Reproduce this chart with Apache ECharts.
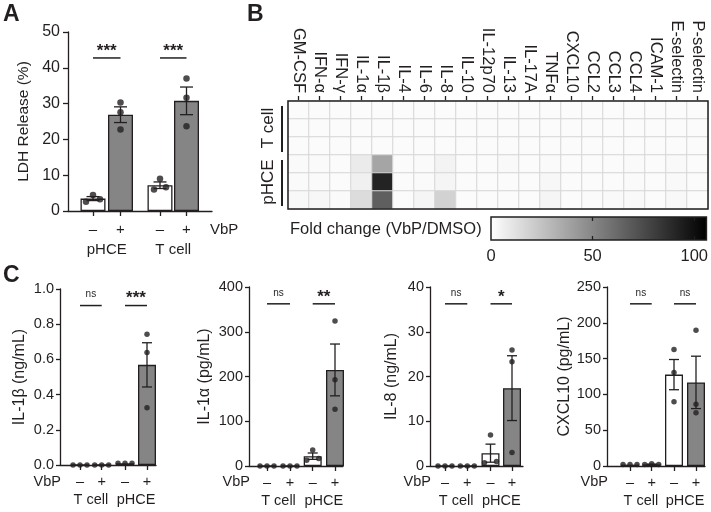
<!DOCTYPE html>
<html><head><meta charset="utf-8">
<script src="https://cdn.jsdelivr.net/npm/echarts@6/dist/echarts.min.js"></script>
<style>html,body{margin:0;padding:0;background:#fff}#c{width:711px;height:512px}</style>
</head><body><div id="c"></div><script>
// ---------------- DATA ----------------
const vbpSigns = ['–', '+'];
// Panel A: LDH release (%), order: pHCE −, pHCE +, T cell −, T cell +
const ldhGroups = ['pHCE', 'T cell'];
const ldhReplicates = [[2.6, 4.5, 3.3], [30.3, 27.6, 22.8], [6.0, 9.0, 6.6], [37.0, 31.6, 23.7]];
const ldhSignif = ['***', '***'];
const ldhTitle = 'LDH Release (%)';

// Panel B: heatmap fold change (VbP/DMSO)
const cytokines = ['GM-CSF','IFN-α','IFN-γ','IL-1α','IL-1β','IL-4','IL-6','IL-8','IL-10','IL-12p70','IL-13','IL-17A','TNFα','CXCL10','CCL2','CCL3','CCL4','ICAM-1','E-selectin','P-selectin'];
const heatRowGroups = ['T cell', 'pHCE'];
const foldChange = [
  [1.7,1.7,1.7,1.7,1.7,1.7,1.7,1.7,1.7,1.7,1.7,1.7,1.7,1.7,1.7,1.7,1.7,1.7,1.7,1.7],
  [1.7,1.7,1.7,1.7,1.7,1.7,1.7,1.7,1.7,1.7,1.7,1.7,1.7,1.7,1.7,1.7,1.7,1.7,1.7,1.7],
  [1.7,1.7,1.7,1.7,1.7,1.7,1.7,1.7,1.7,1.7,1.7,1.7,1.7,1.7,1.7,1.7,1.7,1.7,1.7,1.7],
  [2.0,2.0,1.7,8.3,37.4,1.7,2.0,5.0,1.7,1.7,2.5,1.7,2.0,1.7,1.7,1.7,2.0,1.7,2.5,1.7],
  [2.0,2.0,1.7,6.2,91.5,1.7,2.0,4.2,1.7,1.7,1.7,1.7,3.5,1.7,1.7,1.7,2.0,1.7,2.5,1.7],
  [2.9,3.3,2.0,14.5,66.5,1.7,4.2,18.7,1.7,1.7,1.7,1.7,4.0,1.7,2.0,2.5,2.5,1.7,3.0,1.7]
];
const colorbarTicks = [0, 50, 100];
const colorbarTitle = 'Fold change (VbP/DMSO)';

// Panel C: order T cell −, T cell +, pHCE −, pHCE +
const cGroups = ['T cell', 'pHCE'];
const il1bReplicates   = [[0,0,0],[0,0,0],[0.01,0.01,0.01],[0.743,0.639,0.325]];
const il1aReplicates   = [[0,0,0],[0,0,0],[13,36,17],[324,193,127]];
const il8Replicates    = [[0,0,0],[0,0,0],[0.7,6.9,1.0],[25.9,23.3,3.0]];
const cxcl10Replicates = [[2,2,2],[2,3,2],[162.6,130.6,89.7],[189.6,86.4,74.3]];
const cTitles = ['IL-1β (ng/mL)', 'IL-1α (pg/mL)', 'IL-8 (ng/mL)', 'CXCL10 (pg/mL)'];
const cSignif = [['ns','***'], ['ns','**'], ['ns','*'], ['ns','ns']];
const cMax = [1.0, 400, 40, 250];
const cInterval = [0.2, 100, 10, 50];
const cDecimals = [1, 0, 0, 0];

// ---------------- STYLE / LAYOUT ----------------
const FONT = 'Liberation Sans, Arial, Helvetica, sans-serif';
const INK = '#231f20';
const GRAY = '#858585';
const LW = 1.3;
const CB_MAX = 106;

const grids = [], xAxes = [], yAxes = [], series = [], graphics = [];
const txt = (size, extra) => Object.assign({color: INK, fontSize: size, fontFamily: FONT}, extra || {});
const mean = a => a.reduce((s, v) => s + v, 0) / a.length;
const sem = a => { const m = mean(a); return Math.sqrt(a.reduce((s, v) => s + (v - m) * (v - m), 0) / (a.length - 1)) / Math.sqrt(a.length); };

function clusterOffsets(vals, pxPerVal) {
  const idx = vals.map((v, i) => i).sort((a, b) => vals[a] - vals[b]);
  const clusters = []; let cur = [idx[0]];
  for (let k = 1; k < idx.length; k++) {
    if ((vals[idx[k]] - vals[idx[k - 1]]) * pxPerVal < 6) cur.push(idx[k]);
    else { clusters.push(cur); cur = [idx[k]]; }
  }
  clusters.push(cur);
  const off = vals.map(() => 0);
  clusters.forEach(c => {
    c.sort((a, b) => a - b);
    const s = c.length === 2 ? [-6, 6] : c.length === 3 ? [-7, 0, 7] : [0];
    c.forEach((i, j) => off[i] = s[j] || 0);
  });
  return off;
}

function addBarPanel(L, d) {
  const gi = grids.length;
  grids.push({left: L.left, top: L.top, width: L.width, height: L.height});
  const xi = xAxes.length, yi = yAxes.length;
  const signOf = {}; L.barPx.forEach((x, i) => signOf[x] = vbpSigns[i % 2]);
  const grpX = [(L.barPx[0] + L.barPx[1]) / 2, (L.barPx[2] + L.barPx[3]) / 2];
  const grpOf = {}; grpX.forEach((x, i) => grpOf[x] = d.groups[i]);
  xAxes.push({type: 'value', gridIndex: gi, min: 0, max: L.width, splitLine: {show: false},
    axisLine: {show: true, onZero: false, lineStyle: {color: INK, width: LW}},
    axisTick: {show: true, customValues: L.barPx, length: 5, lineStyle: {color: INK, width: LW}},
    axisLabel: Object.assign({show: true, customValues: L.barPx, formatter: v => signOf[v] || '', margin: L.labMargin}, txt(L.labFont))});
  xAxes.push({type: 'value', gridIndex: gi, min: 0, max: L.width, position: 'bottom', offset: L.grpOffset,
    splitLine: {show: false}, axisLine: {show: false}, axisTick: {show: false},
    axisLabel: Object.assign({show: true, customValues: grpX, formatter: v => grpOf[v] || '', margin: L.labMargin}, txt(L.labFont))});
  yAxes.push({type: 'value', gridIndex: gi, min: 0, max: d.max, interval: d.interval,
    name: d.title, nameLocation: 'middle', nameGap: L.nameGap, nameTextStyle: txt(L.titleFont),
    axisLine: {show: true, lineStyle: {color: INK, width: LW}},
    axisTick: {show: true, length: L.tickLen, lineStyle: {color: INK, width: LW}},
    splitLine: {show: false},
    axisLabel: Object.assign({formatter: v => v.toFixed(d.decimals), margin: L.tickMargin}, txt(L.tickFont))});
  const pxPerVal = L.height / d.max;
  const means = d.reps.map(mean), sems = d.reps.map(sem);
  series.push({type: 'bar', xAxisIndex: xi, yAxisIndex: yi, barWidth: L.barW, z: 2, silent: true,
    itemStyle: {borderColor: INK, borderWidth: LW},
    data: means.map((m, i) => ({value: [L.barPx[i], m], itemStyle: {color: i % 2 ? GRAY : '#ffffff'}}))});
  const capW = L.capW;
  series.push({type: 'custom', xAxisIndex: xi, yAxisIndex: yi, z: 3, silent: true,
    data: means.map((m, i) => [L.barPx[i], m - sems[i], m + sems[i]]).filter(r => r[2] - r[1] > 1e-9),
    renderItem: (params, api) => {
      const x = api.value(0);
      const lo = api.coord([x, api.value(1)]), hi = api.coord([x, api.value(2)]);
      const st = {stroke: INK, lineWidth: LW};
      return {type: 'group', children: [
        {type: 'line', shape: {x1: lo[0], y1: lo[1], x2: hi[0], y2: hi[1]}, style: st},
        {type: 'line', shape: {x1: hi[0] - capW / 2, y1: hi[1], x2: hi[0] + capW / 2, y2: hi[1]}, style: st},
        {type: 'line', shape: {x1: lo[0] - capW / 2, y1: lo[1], x2: lo[0] + capW / 2, y2: lo[1]}, style: st}
      ]};
    }});
  const pts = [];
  d.reps.forEach((r, i) => { const off = clusterOffsets(r, pxPerVal); r.forEach((v, j) => pts.push([L.barPx[i] + off[j], v])); });
  series.push({type: 'scatter', xAxisIndex: xi, yAxisIndex: yi, z: 4, silent: true, symbol: 'circle',
    symbolSize: L.dot, itemStyle: {color: INK}, data: pts});
  const lvl = L.sigLevel * d.max;
  series.push({type: 'custom', xAxisIndex: xi, yAxisIndex: yi, z: 4, silent: true,
    data: d.sig.map((s, i) => [L.barPx[2 * i], L.barPx[2 * i + 1], lvl]),
    renderItem: (params, api) => {
      const a = api.coord([api.value(0), api.value(2)]), b = api.coord([api.value(1), api.value(2)]);
      const s = d.sig[params.dataIndex];
      const ns = s === 'ns';
      return {type: 'group', children: [
        {type: 'line', shape: {x1: a[0], y1: a[1], x2: b[0], y2: b[1]}, style: {stroke: INK, lineWidth: 1.5}},
        {type: 'text', x: (a[0] + b[0]) / 2, y: a[1] - (ns ? 11 : 7),
         style: {text: s, align: 'center', verticalAlign: 'middle', fill: INK, fontFamily: FONT,
                 fontSize: ns ? 10 : 17, fontWeight: ns ? 'normal' : 'bold'}}
      ]};
    }});
  graphics.push({type: 'text', x: L.vbpX, y: L.vbpY,
    style: {text: 'VbP', align: L.vbpAlign, verticalAlign: 'middle', fill: INK, fontFamily: FONT, fontSize: L.labFont}});
}

// Panel A
addBarPanel(
  {left: 68, top: 32, width: 144, height: 179, barPx: [25, 52.5, 92, 118.5], barW: 25, capW: 13, dot: 6.5,
   tickFont: 16, labFont: 15, labMargin: 11, grpOffset: 20, nameGap: 36, titleFont: 15.5, tickLen: 5, tickMargin: 8,
   sigLevel: 0.855, vbpX: 210, vbpY: 230, vbpAlign: 'left'},
  {reps: ldhReplicates, groups: ldhGroups, title: ldhTitle, max: 50, interval: 10, decimals: 0, sig: ldhSignif});

// Panel C
const cLayouts = [
  {left: 60, top: 289, width: 96, height: 176, barPx: [20, 41.7, 65, 87], nameGap: 32},
  {left: 249, top: 287, width: 94, height: 179, barPx: [18, 41, 63.7, 86], nameGap: 36},
  {left: 430, top: 287, width: 93, height: 179, barPx: [15, 37.3, 60.5, 82], nameGap: 30},
  {left: 607, top: 287, width: 98, height: 179, barPx: [23, 44.7, 67, 89], nameGap: 32}
];
const cReps = [il1bReplicates, il1aReplicates, il8Replicates, cxcl10Replicates];
cLayouts.forEach((L, k) => {
  addBarPanel(Object.assign({barW: 18, capW: 10, dot: 5.5, tickFont: 14.5, labFont: 14.5, labMargin: 9, grpOffset: 18,
      titleFont: 16, tickLen: 4, tickMargin: 6, sigLevel: 0.906, vbpX: L.left + 1, vbpY: 482, vbpAlign: 'right'}, L),
    {reps: cReps[k], groups: cGroups, title: cTitles[k], max: cMax[k], interval: cInterval[k], decimals: cDecimals[k], sig: cSignif[k]});
});

// Panel B heatmap
const hgi = grids.length;
grids.push({left: 288, top: 101, width: 420, height: 108});
const hxi = xAxes.length, hyi = yAxes.length;
xAxes.push({type: 'category', gridIndex: hgi, data: cytokines, position: 'top',
  axisLine: {show: false}, splitLine: {show: false},
  axisTick: {show: true, alignWithLabel: true, length: 5, lineStyle: {color: INK, width: LW}},
  axisLabel: Object.assign({rotate: 90, margin: 8, interval: 0}, txt(16.5))});
yAxes.push({type: 'category', gridIndex: hgi, data: foldChange.map((r, i) => String(i)), inverse: true, show: false});
const heatData = [];
foldChange.forEach((row, r) => row.forEach((v, c) => heatData.push([c, r, v])));
const heatSeriesIndex = series.length;
series.push({type: 'heatmap', xAxisIndex: hxi, yAxisIndex: hyi, data: heatData, silent: true, z: 2,
  itemStyle: {borderColor: '#d6d6d6', borderWidth: 1}, emphasis: {disabled: true}});
series.push({type: 'custom', xAxisIndex: hxi, yAxisIndex: hyi, z: 6, silent: true,
  data: heatRowGroups.map((g, i) => [0, i * 3, i * 3 + 2]),
  renderItem: (params, api) => {
    const sz = api.size([1, 1]);
    const c0 = api.coord([0, api.value(1)]), c1 = api.coord([0, api.value(2)]);
    const left = c0[0] - sz[0] / 2, top = c0[1] - sz[1] / 2, bottom = c1[1] + sz[1] / 2;
    const cs = params.coordSys;
    const children = [
      {type: 'line', shape: {x1: left - 6, y1: top + 5, x2: left - 6, y2: bottom - 3}, style: {stroke: INK, lineWidth: 2}},
      {type: 'text', x: left - 20, y: (top + bottom) / 2, rotation: Math.PI / 2,
       style: {text: heatRowGroups[params.dataIndex], align: 'center', verticalAlign: 'middle', fill: INK, fontFamily: FONT, fontSize: 17}}
    ];
    if (params.dataIndex === 0) children.push({type: 'rect', shape: {x: cs.x, y: cs.y, width: cs.width, height: cs.height},
      style: {fill: 'none', stroke: INK, lineWidth: 1.5}});
    return {type: 'group', children};
  }});

// Colorbar
const cbg = grids.length;
grids.push({left: 491, top: 217, width: 219, height: 23});
const cbx = xAxes.length, cby = yAxes.length;
xAxes.push({type: 'value', gridIndex: cbg, min: 0, max: CB_MAX, z: 10, splitLine: {show: false}, axisLine: {show: false},
  axisTick: {show: true, inside: true, customValues: [50, 100], length: 4, lineStyle: {color: INK, width: LW}},
  axisLabel: Object.assign({customValues: colorbarTicks, margin: 8}, txt(16.5))});
xAxes.push({type: 'value', gridIndex: cbg, min: 0, max: CB_MAX, position: 'top', z: 10, splitLine: {show: false}, axisLine: {show: false},
  axisTick: {show: true, inside: true, customValues: [50, 100], length: 4, lineStyle: {color: INK, width: LW}},
  axisLabel: {show: false}});
yAxes.push({type: 'value', gridIndex: cbg, min: 0, max: 1, show: false});
series.push({type: 'custom', xAxisIndex: cbx, yAxisIndex: cby, z: 3, silent: true, data: [[0, CB_MAX]],
  renderItem: (params, api) => {
    const p0 = api.coord([api.value(0), 0]), p1 = api.coord([api.value(1), 1]);
    return {type: 'rect', shape: {x: p0[0], y: p1[1], width: p1[0] - p0[0], height: p0[1] - p1[1]},
      style: {stroke: INK, lineWidth: 1.5,
        fill: {type: 'linear', x: 0, y: 0, x2: 1, y2: 0, colorStops: [{offset: 0, color: '#ffffff'}, {offset: 1, color: '#000000'}]}}};
  }});

// Text annotations
graphics.push({type: 'text', x: 3, y: 15, style: {text: 'A', fill: INK, fontFamily: FONT, fontSize: 23, fontWeight: 'bold', verticalAlign: 'middle'}});
graphics.push({type: 'text', x: 247, y: 15, style: {text: 'B', fill: INK, fontFamily: FONT, fontSize: 23, fontWeight: 'bold', verticalAlign: 'middle'}});
graphics.push({type: 'text', x: 3, y: 276, style: {text: 'C', fill: INK, fontFamily: FONT, fontSize: 23, fontWeight: 'bold', verticalAlign: 'middle'}});
graphics.push({type: 'text', x: 290, y: 229, style: {text: colorbarTitle, fill: INK, fontFamily: FONT, fontSize: 16.5, verticalAlign: 'middle'}});

const chart = echarts.init(document.getElementById('c'), null, {renderer: 'canvas'});
chart.setOption({
  animation: false,
  backgroundColor: '#ffffff',
  textStyle: {fontFamily: FONT},
  grid: grids, xAxis: xAxes, yAxis: yAxes, series: series,
  visualMap: {type: 'continuous', show: false, min: 0, max: CB_MAX, seriesIndex: heatSeriesIndex,
    inRange: {color: ['#ffffff', '#000000']}},
  graphic: graphics
});
</script></body></html>
